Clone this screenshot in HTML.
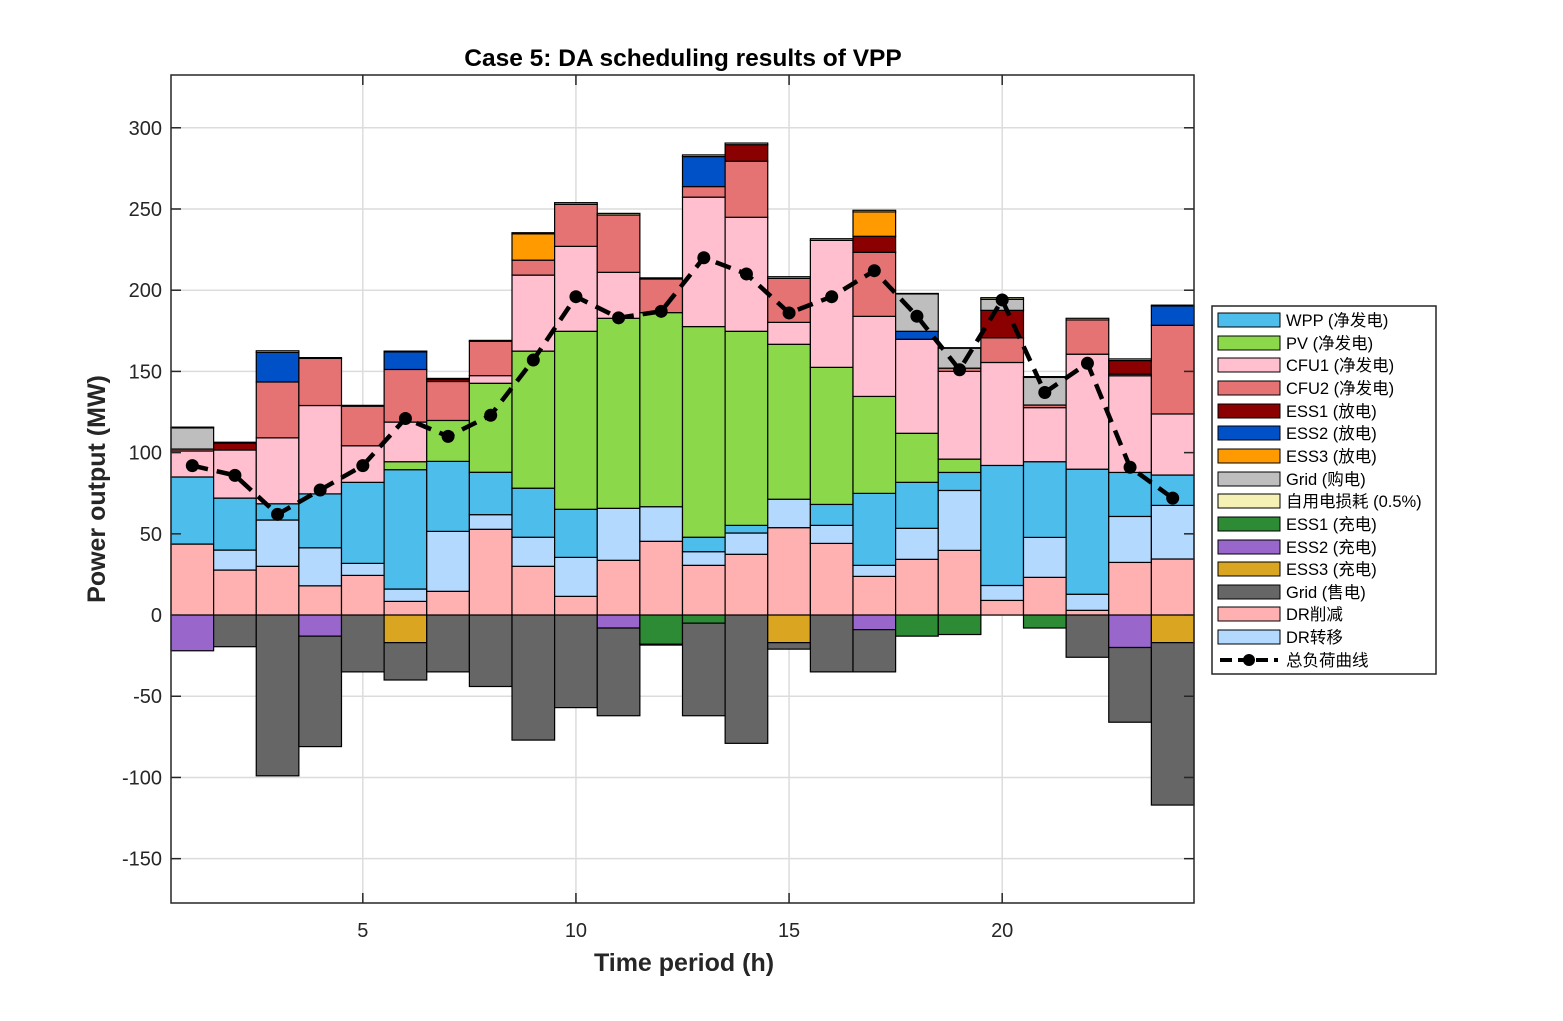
<!DOCTYPE html>
<html><head><meta charset="utf-8"><style>
body{margin:0;background:#fff}
svg text{font-family:"Liberation Sans","Noto Sans CJK SC",sans-serif}
</style></head><body>
<svg id="chart" width="1563" height="1016" xmlns="http://www.w3.org/2000/svg"></svg>
<script>
const hours=[1,2,3,4,5,6,7,8,9,10,11,12,13,14,15,16,17,18,19,20,21,22,23,24];
const drCut=[43.7,27.7,30,18,24.4,8.4,14.6,52.8,30,11.5,33.7,45.4,30.6,37.4,53.8,44.1,23.8,34.3,39.8,9,23.2,2.9,32.4,34.5];
const drShift=[0,12.3,28.5,23.4,7.4,7.6,36.9,9,17.9,24,32,21.3,8.4,13.1,17.5,11.1,6.8,19.1,36.9,9.2,24.6,9.9,28.3,33];
const wpp=[41.3,32,10,33.2,49.9,73.5,43.1,26.1,30.2,29.6,0,0,8.9,4.7,0,12.9,44.3,28.3,11.1,73.9,46.6,77,27.1,18.7];
const pv=[0,0,0,0,0,4.9,25.2,54.8,84.4,109.6,117,119.5,129.7,119.5,95.4,84.4,59.7,30.2,8.2,0,0,0,0,0];
const cfu1=[16,29.6,40.6,54.4,22.5,24.4,0,4.7,46.8,52.3,28.3,0,79.7,70.2,13.5,78.2,49.3,57.9,54,63.4,33.3,70.8,59.5,37.6];
const cfu2=[1.2,0,34.4,29,24.4,32.4,24,21.2,9.2,25.9,35.3,20.7,6.5,34.5,27.1,0,39.4,0,2,15.2,1.6,21.1,1,54.6];
const ess1Dis=[0,4.3,0,0,0,0,1.4,0,0,0,0,0,0,10.2,0,0,9.9,0,0,16.9,0,0,8.4,0];
const ess2Dis=[0,0,18.2,0,0,10.8,0,0,0,0,0,0,18.5,0,0,0,0,4.9,0,0,0,0,0,11.9];
const ess3Dis=[0,0,0,0,0,0,0,0,16.2,0,0,0,0,0,0,0,15,0,0,0,0,0,0,0];
const gridBuy=[13,0,0,0,0,0,0,0,0,0,0,0,0,0,0,0,0,23,12.3,6.8,17,0,0,0];
const selfLoss=[0.5,0.5,1,0.5,0.5,0.5,0.5,0.5,0.7,1,1,0.7,1,1,1,1,1,0.3,0.3,1,0.5,1,1,0.5];
const ess1Ch=[0,0,0,0,0,0,0,0,0,0,0,18,5,0,0,0,0,13,12,0,8,0,0,0];
const ess2Ch=[22,0,0,13,0,0,0,0,0,0,8,0,0,0,0,0,9,0,0,0,0,0,20,0];
const ess3Ch=[0,0,0,0,0,17,0,0,0,0,0,0,0,0,17,0,0,0,0,0,0,0,0,17];
const gridSell=[0,19.5,99,68,35,23,35,44,77,57,54,0.5,57,79,4,35,26,0,0,0,0,26,46,100];
const load=[92,86,62,77,92,121,110,123,157,196,183,187,220,210,186,196,212,184,151,194,137,155,91,72];
const yTicks=[-150,-100,-50,0,50,100,150,200,250,300];
const xTicks=[5,10,15,20];

const L=171,R=1194,T=75,B=903,xMin=0.5,xMax=24.5,yMin=-177.3,yMax=332.5;
const xs=v=>L+(v-xMin)/(xMax-xMin)*(R-L);
const ys=v=>B-(v-yMin)/(yMax-yMin)*(B-T);
const svg=document.getElementById('chart');
const NS='http://www.w3.org/2000/svg';
function mk(tag,attrs,parent){const e=document.createElementNS(NS,tag);for(const k in attrs)e.setAttribute(k,attrs[k]);(parent||svg).appendChild(e);return e;}

const grid=mk('g',{});


yTicks.forEach(t=>mk('line',{x1:L,x2:R,y1:ys(t),y2:ys(t),stroke:'#dcdcdc','stroke-width':1.5},grid));
xTicks.forEach(t=>mk('line',{x1:xs(t),x2:xs(t),y1:T,y2:B,stroke:'#dcdcdc','stroke-width':1.5},grid));

const posSeries=[
 ['dr-cut',drCut,'#FFB0B0'],['dr-shift',drShift,'#B3D9FF'],['wpp',wpp,'#4DBEEB'],['pv',pv,'#8CD84B'],
 ['cfu1',cfu1,'#FFBFCF'],['cfu2',cfu2,'#E57373'],['ess1-discharge',ess1Dis,'#8B0000'],['ess2-discharge',ess2Dis,'#0050C8'],
 ['ess3-discharge',ess3Dis,'#FF9A00'],['grid-buy',gridBuy,'#BEBEBE'],['self-loss',selfLoss,'#F5F0B4']];
const negSeries=[['ess1-charge',ess1Ch,'#2E8B35'],['ess2-charge',ess2Ch,'#9966CC'],['ess3-charge',ess3Ch,'#DAA520'],['grid-sell',gridSell,'#666666']];
const bars=mk('g',{});


hours.forEach((h,i)=>{
  let acc=0;
  posSeries.forEach(s=>{const v=s[1][i];if(v<=0)return;
    const r=mk('rect',{x:xs(h-0.5),width:xs(h+0.5)-xs(h-0.5),y:ys(acc+v),height:ys(acc)-ys(acc+v),fill:s[2],stroke:'#000','stroke-width':1.2},bars);
    
    
    acc+=v;});
  acc=0;
  negSeries.forEach(s=>{const v=s[1][i];if(v<=0)return;
    const r=mk('rect',{x:xs(h-0.5),width:xs(h+0.5)-xs(h-0.5),y:ys(acc),height:ys(acc-v)-ys(acc),fill:s[2],stroke:'#000','stroke-width':1.2},bars);
    
    
    acc-=v;});
});
const lg=mk('g',{});


mk('polyline',{points:hours.map((h,i)=>xs(h)+','+ys(load[i])).join(' '),fill:'none',stroke:'#000','stroke-width':4.5,'stroke-dasharray':'16,9'},lg);
hours.forEach((h,i)=>{const c=mk('circle',{cx:xs(h),cy:ys(load[i]),r:6.5,fill:'#000'},lg);
  
  });

const ax=mk('g',{});


mk('rect',{x:L,y:T,width:R-L,height:B-T,fill:'none',stroke:'#262626','stroke-width':1.5},ax);
yTicks.forEach(t=>{const y=ys(t);
  mk('line',{x1:L,x2:L+10,y1:y,y2:y,stroke:'#262626','stroke-width':1.5},ax);
  mk('line',{x1:R-10,x2:R,y1:y,y2:y,stroke:'#262626','stroke-width':1.5},ax);
  const tx=mk('text',{x:L-9,y:y+7,'text-anchor':'end','font-size':20,fill:'#262626'},ax);tx.textContent=t;
  
  });
xTicks.forEach(t=>{const x=xs(t);
  mk('line',{x1:x,x2:x,y1:B-10,y2:B,stroke:'#262626','stroke-width':1.5},ax);
  mk('line',{x1:x,x2:x,y1:T,y2:T+10,stroke:'#262626','stroke-width':1.5},ax);
  const tx=mk('text',{x:x,y:B+34,'text-anchor':'middle','font-size':20,fill:'#262626'},ax);tx.textContent=t;
  
  });
</script>
<svg style="position:absolute;left:0;top:0" width="1563" height="1016" xmlns="http://www.w3.org/2000/svg">
<text x="683" y="66" text-anchor="middle" font-size="24.5" font-weight="bold" fill="#000">Case 5: DA scheduling results of VPP</text>
<text x="684" y="971" text-anchor="middle" font-size="25" font-weight="bold" fill="#262626">Time period (h)</text>
<text transform="translate(105,489) rotate(-90)" text-anchor="middle" font-size="25" font-weight="bold" fill="#262626">Power output (MW)</text>
<g font-size="16.5" fill="#000">
<rect x="1212" y="306" width="224" height="368" fill="#fff" stroke="#262626" stroke-width="1.5"/>
<g><rect x="1218" y="313" width="62" height="14" fill="#4DBEEB" stroke="#000"/><text x="1286" y="326">WPP (净发电)</text></g>
<g><rect x="1218" y="336" width="62" height="14" fill="#8CD84B" stroke="#000"/><text x="1286" y="349">PV (净发电)</text></g>
<g><rect x="1218" y="358" width="62" height="14" fill="#FFBFCF" stroke="#000"/><text x="1286" y="371">CFU1 (净发电)</text></g>
<g><rect x="1218" y="381" width="62" height="14" fill="#E57373" stroke="#000"/><text x="1286" y="394">CFU2 (净发电)</text></g>
<g><rect x="1218" y="404" width="62" height="14" fill="#8B0000" stroke="#000"/><text x="1286" y="417">ESS1 (放电)</text></g>
<g><rect x="1218" y="426" width="62" height="14" fill="#0050C8" stroke="#000"/><text x="1286" y="439">ESS2 (放电)</text></g>
<g><rect x="1218" y="449" width="62" height="14" fill="#FF9A00" stroke="#000"/><text x="1286" y="462">ESS3 (放电)</text></g>
<g><rect x="1218" y="472" width="62" height="14" fill="#BEBEBE" stroke="#000"/><text x="1286" y="485">Grid (购电)</text></g>
<g><rect x="1218" y="494" width="62" height="14" fill="#F5F0B4" stroke="#000"/><text x="1286" y="507">自用电损耗 (0.5%)</text></g>
<g><rect x="1218" y="517" width="62" height="14" fill="#2E8B35" stroke="#000"/><text x="1286" y="530">ESS1 (充电)</text></g>
<g><rect x="1218" y="540" width="62" height="14" fill="#9966CC" stroke="#000"/><text x="1286" y="553">ESS2 (充电)</text></g>
<g><rect x="1218" y="562" width="62" height="14" fill="#DAA520" stroke="#000"/><text x="1286" y="575">ESS3 (充电)</text></g>
<g><rect x="1218" y="585" width="62" height="14" fill="#666666" stroke="#000"/><text x="1286" y="598">Grid (售电)</text></g>
<g><rect x="1218" y="607" width="62" height="14" fill="#FFB0B0" stroke="#000"/><text x="1286" y="620">DR削减</text></g>
<g><rect x="1218" y="630" width="62" height="14" fill="#B3D9FF" stroke="#000"/><text x="1286" y="643">DR转移</text></g>
<g><line x1="1220" y1="660" x2="1278" y2="660" stroke="#000" stroke-width="4" stroke-dasharray="12,6"/><circle cx="1249" cy="660" r="6" fill="#000"/><text x="1286" y="666">总负荷曲线</text></g>
</g>
</svg>
</body></html>
